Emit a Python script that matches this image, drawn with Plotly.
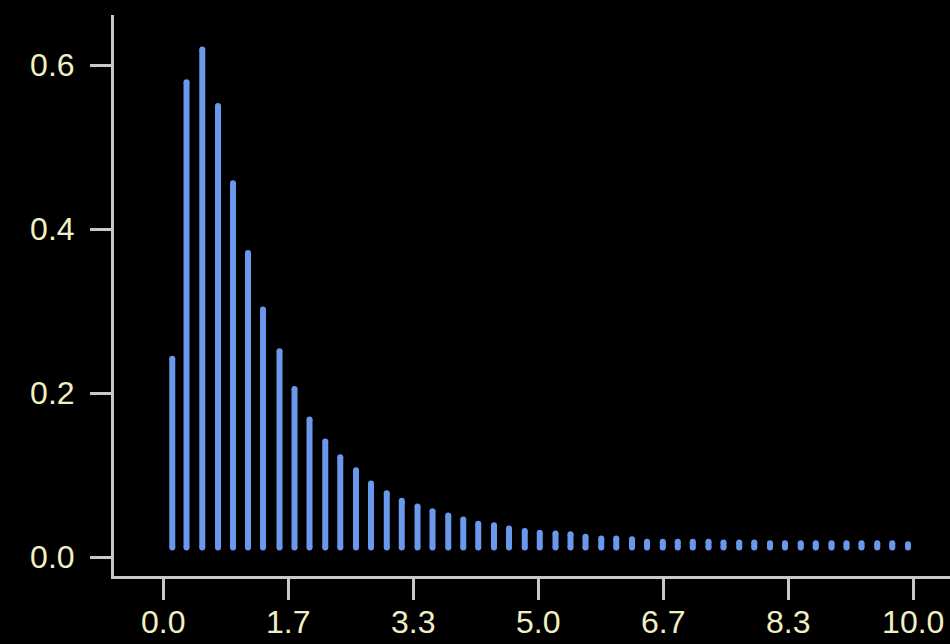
"""Stem-style histogram on a black background, offset spines."""
import plotly.graph_objects as go

# bin centres (x) and heights
x_vals = [0.12, 0.31, 0.52, 0.73, 0.93, 1.13, 1.33, 1.55, 1.75, 1.95,
          2.16, 2.36, 2.57, 2.77, 2.98, 3.18, 3.39, 3.59, 3.80, 4.00,
          4.20, 4.41, 4.61, 4.82, 5.02, 5.23, 5.43, 5.63, 5.84, 6.04,
          6.25, 6.45, 6.66, 6.86, 7.06, 7.27, 7.47, 7.68, 7.88, 8.09,
          8.29, 8.50, 8.70, 8.91, 9.11, 9.31, 9.52, 9.72, 9.93]
y_vals = [0.242, 0.579, 0.619, 0.550, 0.456, 0.371, 0.302, 0.251, 0.205, 0.168,
          0.141, 0.122, 0.106, 0.090, 0.078, 0.069, 0.062, 0.056, 0.051, 0.046,
          0.041, 0.039, 0.035, 0.032, 0.030, 0.029, 0.028, 0.025, 0.023, 0.023,
          0.022, 0.019, 0.019, 0.019, 0.019, 0.019, 0.018, 0.018, 0.018, 0.017,
          0.017, 0.017, 0.017, 0.017, 0.017, 0.017, 0.017, 0.017, 0.016]
BASE = 0.012

x_tickvals = [0.0, 10 / 6, 20 / 6, 5.0, 40 / 6, 50 / 6, 10.0]
x_ticktext = ["0.0", "1.7", "3.3", "5.0", "6.7", "8.3", "10.0"]
y_tickvals = [0.0, 0.2, 0.4, 0.6]
y_ticktext = ["0.0", "0.2", "0.4", "0.6"]

BLUE = "#6a98ec"
AXIS = "#c8c8c8"
LABEL = "#f0f0c4"

# each stem is a segment base -> value, separated by None
seg_x, seg_y, cap_x, cap_y = [], [], [], []
for xv, yv in zip(x_vals, y_vals):
    seg_x += [xv, xv, None]
    seg_y += [BASE, yv, None]
    cap_x += [xv, xv]
    cap_y += [BASE, yv]

fig = go.Figure()
fig.add_trace(go.Scatter(x=seg_x, y=seg_y, mode="lines",
                         line=dict(color=BLUE, width=6), hoverinfo="skip"))
# round caps
fig.add_trace(go.Scatter(x=cap_x, y=cap_y, mode="markers",
                         marker=dict(color=BLUE, size=6, line=dict(width=0)),
                         hoverinfo="skip"))

axis_common = dict(showgrid=False, zeroline=False, showline=True,
                   linecolor=AXIS, linewidth=3, ticks="outside", ticklen=21,
                   tickwidth=3, tickcolor=AXIS, automargin=False,
                   tickfont=dict(family="Liberation Sans", size=32, color=LABEL))

fig.update_xaxes(range=[-0.657, 10.49], tickmode="array", tickvals=x_tickvals,
                 ticktext=x_ticktext, ticklabelstandoff=-5, **axis_common)
fig.update_yaxes(range=[-0.0228, 0.661], tickmode="array", tickvals=y_tickvals,
                 ticktext=y_ticktext, ticklabelstandoff=9, **axis_common)

fig.update_layout(width=950, height=644, showlegend=False,
                  paper_bgcolor="black", plot_bgcolor="black",
                  margin=dict(l=114, r=0, t=15, b=68))
# drop the default body margin so the figure sits flush in the window
fig.write_html("out.html", config={"displayModeBar": False},
               post_script="document.body.style.margin='0';"
                           "document.body.style.background='black';")
